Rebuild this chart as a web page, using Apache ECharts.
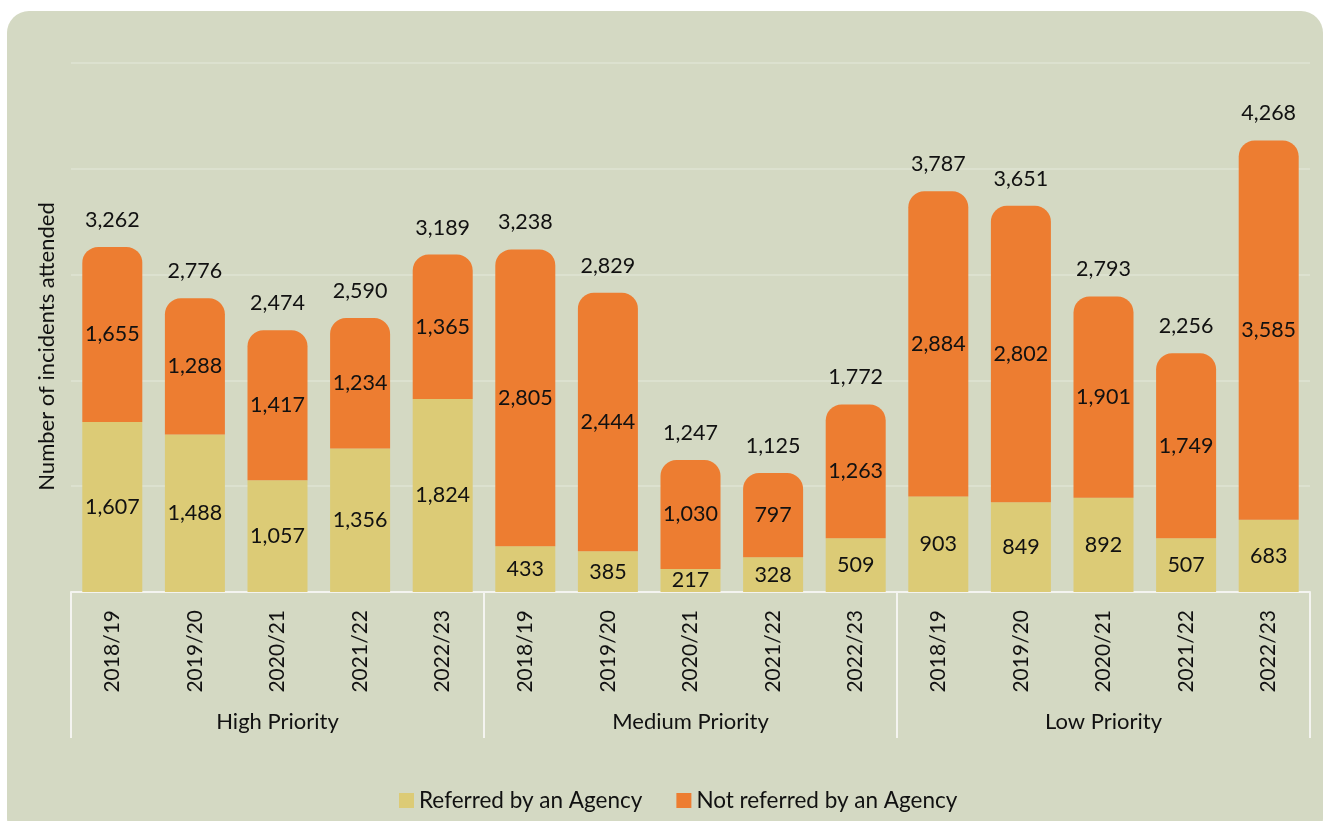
<!DOCTYPE html>
<html>
<head>
<meta charset="utf-8">
<script src="https://cdn.jsdelivr.net/npm/echarts@6/dist/echarts.min.js"></script>
<style>
  html, body { margin: 0; padding: 0; background: #ffffff; overflow: hidden; }
  #panel {
    position: absolute; left: 7px; top: 11px; width: 1316px; height: 830px;
    background: #d4d9c3; border-radius: 22px;
  }
  #chart { position: absolute; left: 0; top: 0; width: 1323px; height: 821px; }
</style>
</head>
<body>
<div id="panel"></div>
<div id="chart"></div>
<script>
// year labels, repeated for each priority group
var years = ["2018/19", "2019/20", "2020/21", "2021/22", "2022/23",
             "2018/19", "2019/20", "2020/21", "2021/22", "2022/23",
             "2018/19", "2019/20", "2020/21", "2021/22", "2022/23"];
var groups = ["High Priority", "Medium Priority", "Low Priority"];

var referred = [1607, 1488, 1057, 1356, 1824,
                433, 385, 217, 328, 509,
                903, 849, 892, 507, 683];
var notReferred = [1655, 1288, 1417, 1234, 1365,
                   2805, 2444, 1030, 797, 1263,
                   2884, 2802, 1901, 1749, 3585];
var totals = [3262, 2776, 2474, 2590, 3189,
              3238, 2829, 1247, 1125, 1772,
              3787, 3651, 2793, 2256, 4268];

var FONT = "Lato";
var fmt = function (v) { return v.toLocaleString("en-US"); };

var chart = echarts.init(document.getElementById("chart"));
chart.setOption({
  backgroundColor: "transparent",
  animation: false,
  textStyle: { fontFamily: FONT, color: "#000" },
  grid: { left: 71, right: 13, top: 63, bottom: 229 },
  legend: {
    data: ["Referred by an Agency", "Not referred by an Agency"],
    left: 394, top: 784,
    itemWidth: 15, itemHeight: 15, itemGap: 34,
    icon: "rect",
    textStyle: { fontFamily: FONT, fontSize: 22.5, color: "#111" }
  },
  xAxis: [
    {
      type: "category",
      data: years,
      axisLine: { lineStyle: { color: "#f4f4f0", width: 2 } },
      axisTick: { show: false },
      axisLabel: { rotate: 90, margin: 18, fontSize: 21, color: "#111", fontFamily: FONT }
    },
    {
      type: "category",
      data: groups,
      position: "bottom",
      axisLine: { show: false },
      axisTick: { show: true, length: 146, lineStyle: { color: "#f4f4f0", width: 2 } },
      axisLabel: { margin: 119, fontSize: 22, color: "#111", fontFamily: FONT }
    }
  ],
  yAxis: {
    type: "value",
    min: 0, max: 5000, interval: 1000,
    axisLabel: { show: false },
    axisLine: { show: false },
    axisTick: { show: false },
    splitLine: { lineStyle: { color: "#dfe3d3", width: 1.5 } },
    name: "Number of incidents attended",
    nameLocation: "middle",
    nameGap: 13,
    nameTextStyle: { fontSize: 22, color: "#111", fontFamily: FONT, padding: [0, 38, 0, 0] }
  },
  series: [
    {
      name: "Referred by an Agency",
      type: "bar",
      stack: "total",
      barWidth: 60,
      data: referred,
      itemStyle: { color: "#dccb76" },
      label: { show: true, position: "inside", fontSize: 21.5, color: "#111", formatter: function (p) { return fmt(p.value); } }
    },
    {
      name: "Not referred by an Agency",
      type: "bar",
      stack: "total",
      barWidth: 60,
      data: notReferred,
      itemStyle: { color: "#ed7d31", borderRadius: [16, 16, 0, 0] },
      label: { show: true, position: "inside", fontSize: 21.5, color: "#111", formatter: function (p) { return fmt(p.value); } }
    },
    {
      name: "Total",
      type: "bar",
      stack: "total",
      barWidth: 60,
      data: totals.map(function () { return 0; }),
      itemStyle: { color: "transparent" },
      label: {
        show: true, position: "top", distance: 16, fontSize: 21.5, color: "#111",
        formatter: function (p) { return fmt(totals[p.dataIndex]); }
      }
    }
  ]
});
</script>
</body>
</html>
